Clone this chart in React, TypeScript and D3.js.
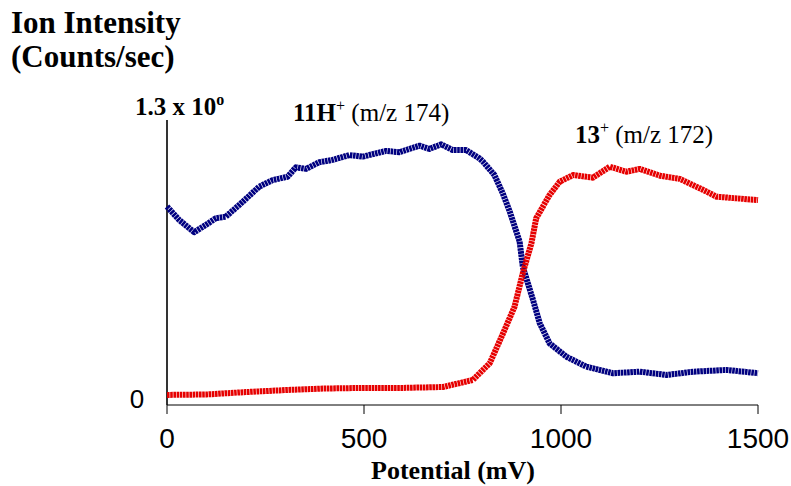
import React from "react";
import * as d3 from "d3";

const xTicks = [0, 500, 1000, 1500];

// 11H+ (m/z 174) – blue
const blueX = [0, 31, 69, 98, 124, 149, 183, 234, 268, 306, 327, 353, 386, 420, 463, 497, 556, 590, 641, 666, 696, 725, 759, 793, 802, 831, 852, 870, 895, 903, 929, 946, 971, 1014, 1064, 1132, 1200, 1268, 1336, 1420, 1500];
const blueY = [0.905, 0.844, 0.788, 0.821, 0.852, 0.859, 0.912, 0.996, 1.026, 1.041, 1.084, 1.077, 1.107, 1.118, 1.14, 1.133, 1.159, 1.153, 1.183, 1.168, 1.189, 1.163, 1.163, 1.125, 1.11, 1.049, 0.966, 0.882, 0.745, 0.631, 0.479, 0.373, 0.281, 0.22, 0.175, 0.145, 0.152, 0.137, 0.152, 0.16, 0.145];

// 13+ (m/z 172) – red
const redX = [0, 100, 200, 300, 400, 500, 600, 700, 776, 819, 853, 882, 903, 925, 937, 971, 997, 1031, 1081, 1124, 1166, 1200, 1251, 1302, 1361, 1395, 1500];
const redY = [0.046, 0.048, 0.059, 0.068, 0.075, 0.078, 0.078, 0.082, 0.114, 0.19, 0.327, 0.448, 0.601, 0.738, 0.852, 0.958, 1.019, 1.049, 1.037, 1.087, 1.064, 1.077, 1.046, 1.031, 0.981, 0.95, 0.935];

const W = 791;
const H = 486;

export default function App() {
  const x = d3.scaleLinear().domain([0, 1500]).range([167, 758]);
  const y = d3.scaleLinear().domain([0, 1.3]).range([405, 120]);
  const line = d3
    .line<[number, number]>()
    .x((d) => x(d[0]))
    .y((d) => y(d[1]))
    .curve(d3.curveLinear);
  const blue = blueX.map((v, i) => [v, blueY[i]] as [number, number]);
  const red = redX.map((v, i) => [v, redY[i]] as [number, number]);
  const serif = "'Liberation Serif', 'Times New Roman', serif";
  const sans = "'Liberation Sans', Arial, sans-serif";

  return (
    <svg
      width={W}
      height={H}
      style={{ position: "absolute", left: 0, top: 0, display: "block", background: "#fff" }}
    >
      <text x={11} y={33} fontFamily={serif} fontWeight="bold" fontSize={31}>
        Ion Intensity
      </text>
      <text x={11} y={67} fontFamily={serif} fontWeight="bold" fontSize={31}>
        (Counts/sec)
      </text>
      <text x={135} y={115} fontFamily={serif} fontWeight="bold" fontSize={25}>
        1.3 x 10
        <tspan dy={-10} fontSize={16}>o</tspan>
      </text>

      <text x={293} y={121} fontFamily={serif} fontSize={25}>
        <tspan fontWeight="bold">11H</tspan>
        <tspan dy={-10} fontSize={16}>+</tspan>
        <tspan dy={10}> (m/z 174)</tspan>
      </text>
      <text x={575} y={143} fontFamily={serif} fontSize={25}>
        <tspan fontWeight="bold">13</tspan>
        <tspan dy={-10} fontSize={16}>+</tspan>
        <tspan dy={10}> (m/z 172)</tspan>
      </text>

      {/* axes */}
      <line x1={x(0)} x2={x(0)} y1={y(1.3)} y2={y(0)} stroke="#000" strokeWidth={1.6} />
      <line x1={x(0)} x2={x(1500)} y1={y(0)} y2={y(0)} stroke="#000" strokeWidth={1} />
      {xTicks.map((t) => (
        <g key={t}>
          <line x1={x(t)} x2={x(t)} y1={y(0)} y2={y(0) + 9} stroke="#000" strokeWidth={1} />
          <text x={x(t)} y={448} textAnchor="middle" fontFamily={sans} fontSize={28}>
            {t}
          </text>
        </g>
      ))}
      <text x={137} y={408} textAnchor="middle" fontFamily={sans} fontSize={26}>
        0
      </text>
      <text x={453} y={479} textAnchor="middle" fontFamily={serif} fontWeight="bold" fontSize={26}>
        Potential (mV)
      </text>

      <path
        d={line(blue) || ""}
        fill="none"
        stroke="#000080"
        strokeWidth={6}
        strokeDasharray="2.6 0.6"
        strokeLinejoin="round"
      />
      <path
        d={line(red) || ""}
        fill="none"
        stroke="#e60000"
        strokeWidth={6}
        strokeDasharray="2.6 0.6"
        strokeLinejoin="round"
      />
    </svg>
  );
}
